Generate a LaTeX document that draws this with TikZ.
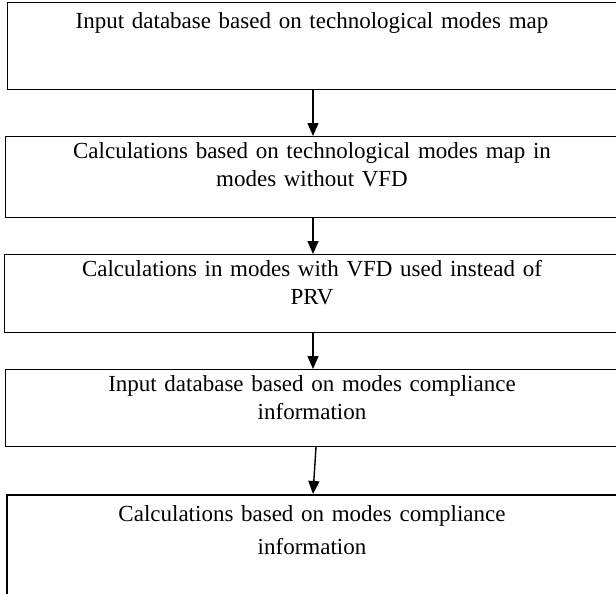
\documentclass[tikz,border=0pt]{standalone}
\usepackage{fontspec}
\setmainfont{Liberation Serif}
\usetikzlibrary{arrows.meta}
\begin{document}
\begin{tikzpicture}[x=1pt,y=-1pt,
  box/.style={draw=black,line width=1pt,rectangle,minimum width=612pt,inner sep=0pt,anchor=north west},
  lbl/.style={text width=600pt,align=center,inner sep=0pt,anchor=north,font=\fontsize{23}{28}\selectfont},
  flow/.style={line width=1.4pt,-{Triangle[length=13pt,width=11pt]}}]
\useasboundingbox (0,0) rectangle (616,594);
\node[box,minimum height=87pt] (b1) at (7,2) {};
\node[box,minimum height=81pt] (b2) at (5,136) {};
\node[box,minimum height=78pt] (b3) at (4,254) {};
\node[box,minimum height=77pt] (b4) at (5,369) {};
\node[box,minimum height=110pt,line width=1.6pt] (b5) at (6,494) {};
\node[lbl] (t1) at (312,9) {\strut Input database based on technological modes map};
\node[lbl] (t2) at (312,139) {\strut Calculations based on technological modes map in\\ modes without VFD};
\node[lbl] (t3) at (312,257) {\strut Calculations in modes with VFD used instead of\\ PRV};
\node[lbl] (t4) at (312,372) {\strut Input database based on modes compliance\\ information};
\node[lbl] (t5) at (312,502) {\strut Calculations based on modes compliance\\[5pt] information};
\draw[flow] (b1.south -| 313,0) -- (b2.north -| 313,0);
\draw[flow] (b2.south -| 313,0) -- (b3.north -| 313,0);
\draw[flow] (b3.south -| 313,0) -- (b4.north -| 313,0);
\draw[flow] (b4.south -| 316,0) -- (b5.north -| 313,0);
\end{tikzpicture}
\end{document}
